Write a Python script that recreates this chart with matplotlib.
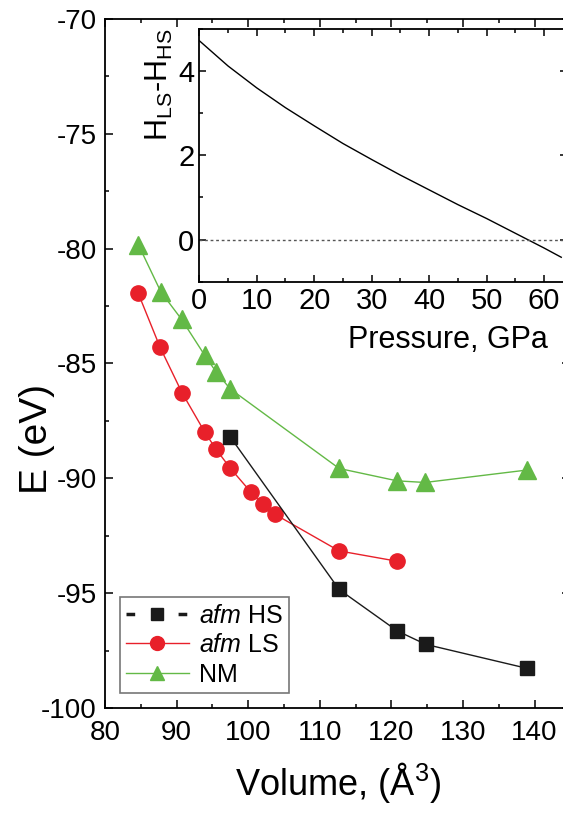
import numpy as np
import matplotlib.pyplot as plt
from matplotlib.lines import Line2D
from matplotlib.ticker import MultipleLocator

plt.rcParams['font.family'] = ['Liberation Sans', 'DejaVu Sans']
plt.rcParams['mathtext.fontset'] = 'custom'
plt.rcParams['mathtext.rm'] = 'Liberation Sans'
plt.rcParams['mathtext.it'] = 'Liberation Sans:italic'
plt.rcParams['axes.unicode_minus'] = False

# main panel data: volume (A^3) vs energy (eV)
vol_hs = [97.5, 112.7, 120.8, 124.8, 138.9]
e_hs = [-88.2, -94.84, -96.64, -97.23, -98.27]

vol_ls = [84.65, 87.7, 90.75, 93.9, 95.5, 97.5, 100.4, 102.0, 103.7, 112.7, 120.8]
e_ls = [-81.95, -84.3, -86.27, -87.97, -88.73, -89.56, -90.61, -91.12, -91.56, -93.16, -93.61]

vol_nm = [84.65, 87.8, 90.7, 93.9, 95.5, 97.5, 112.7, 120.8, 124.7, 138.9]
e_nm = [-79.82, -81.88, -83.08, -84.63, -85.36, -86.11, -89.57, -90.11, -90.18, -89.64]

# inset: enthalpy difference vs pressure
pressure = [0, 5, 10, 15, 20, 25, 30, 35, 40, 45, 50, 55, 60, 63]
dh = [4.72, 4.12, 3.6, 3.13, 2.7, 2.28, 1.9, 1.53, 1.18, 0.83, 0.5, 0.15, -0.2, -0.42]

green = '#63b946'
red = '#e8202a'
black = '#1a1a1a'

fig = plt.figure(figsize=(5.63, 8.16), dpi=100)
ax = fig.add_axes([105/563, 1-708/816, (570.4-105)/563, (708-19)/816])

ax.plot(vol_nm, e_nm, '-', color=green, lw=1.0, marker='^', ms=12.5, mec=green, mfc=green)
ax.plot(vol_ls, e_ls, '-', color=red, lw=1.0, marker='o', ms=11, mec=red, mfc=red)
ax.plot(vol_hs, e_hs, '-', color=black, lw=1.0, marker='s', ms=9.5, mec=black, mfc=black)

ax.set_xlim(80, 145)
ax.set_ylim(-100, -70)
ax.xaxis.set_major_locator(MultipleLocator(10))
ax.xaxis.set_minor_locator(MultipleLocator(5))
ax.yaxis.set_major_locator(MultipleLocator(5))
ax.yaxis.set_minor_locator(MultipleLocator(2.5))
ax.tick_params(which='both', direction='in', top=True, right=True, labelsize=20, width=1.1)
ax.tick_params(which='major', length=6)
ax.tick_params(which='minor', length=3)
ax.tick_params(axis='x', pad=9)
ax.tick_params(axis='y', pad=6)
for s in ax.spines.values():
    s.set_linewidth(1.3)
ax.set_xlabel('Volume, (Å$^3$)', fontsize=26, labelpad=10)
ax.set_ylabel('E (eV)', fontsize=28)
ax.yaxis.set_label_coords(-0.108, 0.39)

handles = [
    Line2D([], [], color=black, ls=(0, (2.5, 12.5)), lw=2.5, marker='s', ms=8),
    Line2D([], [], color=red, lw=1.0, marker='o', ms=10),
    Line2D([], [], color=green, lw=1.0, marker='^', ms=10.5),
]
labels = ['$\\mathit{afm}$ HS', '$\\mathit{afm}$ LS', 'NM']
leg = ax.legend(handles, labels, loc='lower left', bbox_to_anchor=(0.032, 0.022),
                fontsize=18, fancybox=False, edgecolor='#777777', framealpha=1,
                handlelength=2.5, handletextpad=0.4, borderpad=0.25, labelspacing=0.22,
                borderaxespad=0.0)
leg.get_frame().set_linewidth(1.2)

# inset
axi = fig.add_axes([199.3/563, 1-281.7/816, (567-199.3)/563, (281.7-28.9)/816])
axi.plot(pressure, dh, color='black', lw=1.0)
axi.axhline(0, color='#555555', lw=1.0, ls=(0, (2, 2)))
axi.set_xlim(0, 64)
axi.set_ylim(-1, 5)
axi.xaxis.set_major_locator(MultipleLocator(10))
axi.xaxis.set_minor_locator(MultipleLocator(5))
axi.yaxis.set_major_locator(MultipleLocator(2))
axi.yaxis.set_minor_locator(MultipleLocator(1))
axi.tick_params(which='both', direction='in', top=True, right=True, labelsize=21, width=1.1)
axi.tick_params(which='major', length=5)
axi.tick_params(which='minor', length=3)
for s in axi.spines.values():
    s.set_linewidth(1.3)
axi.set_xlabel('Pressure, GPa', fontsize=22, labelpad=0)
axi.xaxis.set_label_coords(0.948, -0.17)
axi.xaxis.label.set_ha('right')
axi.set_ylabel('H$_{\\mathrm{LS}}$-H$_{\\mathrm{HS}}$', fontsize=22, labelpad=2, loc='top')

fig.savefig('out.png', dpi=100)
